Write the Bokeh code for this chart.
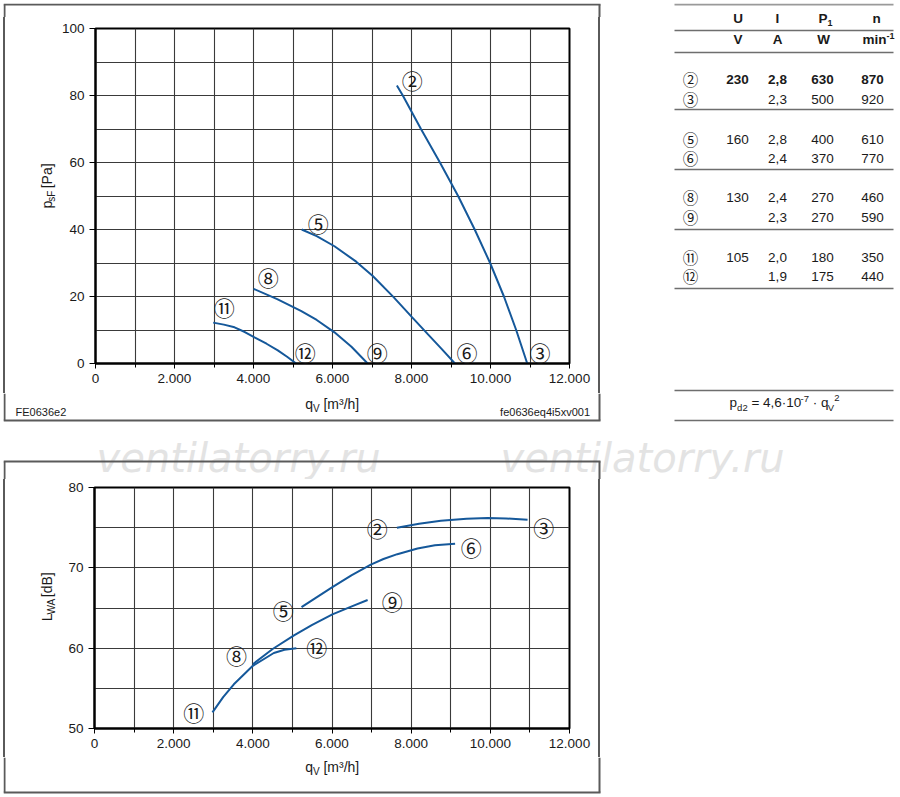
import math
from bokeh.plotting import figure
from bokeh.models import FixedTicker, Label, Range1d, Spacer
from bokeh.layouts import row, column
from bokeh.embed import file_html
from bokeh.resources import INLINE

# ---------------- data ----------------
X_TICKS = [0, 2000, 4000, 6000, 8000, 10000, 12000]
X_TICK_LABELS = ["0", "2.000", "4.000", "6.000", "8.000", "10.000", "12.000"]
X_MINOR = [1000, 3000, 5000, 7000, 9000, 11000]
P_TICKS = [0, 20, 40, 60, 80, 100]
P_TICK_LABELS = ["0", "20", "40", "60", "80", "100"]
L_TICKS = [50, 60, 70, 80]
L_TICK_LABELS = ["50", "60", "70", "80"]

# static pressure p_sF [Pa] over q_V [m3/h]
PS_23_Q = [7630, 7780, 8240, 8720, 9180, 9600, 9990, 10340, 10650, 10930]
PS_23 = [83.0, 80.0, 70.0, 60.0, 50.0, 40.0, 30.0, 20.0, 10.0, 0.0]
PS_56_Q = [5220, 5600, 6050, 6600, 7020, 7540, 8000, 8400, 8750, 9100]
PS_56 = [40.0, 38.0, 35.0, 30.4, 26.1, 19.9, 14.0, 8.9, 4.5, 0.0]
PS_89_Q = [4000, 4600, 5200, 5600, 6050, 6480, 6890]
PS_89 = [22.3, 19.2, 15.7, 13.0, 9.3, 5.0, 0.0]
PS_1112_Q = [2980, 3250, 3520, 3780, 4025, 4330, 4615, 4850, 5080]
PS_1112 = [12.2, 11.6, 10.8, 9.4, 7.8, 5.9, 3.9, 2.0, 0.0]

# sound power L_WA [dB] over q_V [m3/h]
LW_23_Q = [7640, 8200, 8750, 9400, 9930, 10400, 10940]
LW_23 = [75.0, 75.5, 75.85, 76.1, 76.2, 76.15, 76.0]
LW_56_Q = [5230, 5600, 6010, 6500, 6980, 7300, 7650, 8160, 8600, 9110]
LW_56 = [65.1, 66.3, 67.6, 69.1, 70.4, 71.1, 71.7, 72.4, 72.8, 73.0]
LW_89_Q = [4000, 4500, 5040, 5500, 6010, 6500, 6900]
LW_89 = [58.0, 59.9, 61.6, 62.9, 64.2, 65.2, 66.0]
LW_1112_Q = [2980, 3250, 3520, 4000, 4530, 4800, 5100]
LW_1112 = [52.0, 53.9, 55.5, 57.8, 59.4, 59.8, 60.0]

# operating points table
PT_NAMES = ["②", "③", "⑤", "⑥", "⑧", "⑨", "⑪", "⑫"]
PT_U = ["230", "", "160", "", "130", "", "105", ""]
PT_I = ["2,8", "2,3", "2,8", "2,4", "2,4", "2,3", "2,0", "1,9"]
PT_P1 = ["630", "500", "400", "370", "270", "270", "180", "175"]
PT_N = ["870", "920", "610", "770", "460", "590", "350", "440"]

# curve markers (anchor in data coordinates)
PS_MARKS = [("②", 8017, 84.7), ("③", 11254, 3.4), ("⑤", 5640, 41.8), ("⑥", 9408, 3.4),
            ("⑧", 4375, 25.7), ("⑨", 7132, 3.4), ("⑪", 3262, 16.8), ("⑫", 5311, 3.4)]
LW_MARKS = [("②", 7145, 74.9), ("③", 11352, 75.1), ("⑤", 4767, 64.7), ("⑥", 9517, 72.65),
            ("⑧", 3585, 59.1), ("⑨", 7521, 65.85), ("⑪", 2509, 52.0), ("⑫", 5612, 60.1)]

BLUE = "#15589a"
TXT = "#1a1a1a"
BOX = "#5a5a5a"
FONT = "Liberation Sans"
CJK = "Noto Sans CJK JP"
FIX = 0.3  # baseline correction (em)

W_REG = {' ': 278, '[': 278, ']': 278, '/': 278, '=': 584, ',': 278, '.': 278, '-': 333,
         '·': 278, '³': 333, 'm': 833, 'i': 222, 'l': 222, 's': 500, 'F': 611, 'P': 667,
         'L': 556, 'W': 944, 'A': 667, 'V': 667, 'B': 667, 'D': 722, 'U': 722, 'I': 278}
W_BOLD = {'m': 889, 'i': 278, 'n': 611, 'P': 667, '-': 333, 'U': 722, 'I': 278,
          'V': 667, 'A': 722, 'W': 944, ',': 278}


def tw(s, size, bold=False):
    tab = W_BOLD if bold else W_REG
    return sum(tab.get(c, 556) for c in s) * size / 1000.0


def rich(p, pieces, x, y, align="center", angle=0.0, color=TXT):
    """Text pieces (text, size, baseline shift px (+down), bold) in a pixel panel."""
    total = sum(tw(t, s, b) for t, s, sh, b in pieces)
    cur = {"center": -total / 2.0, "left": 0.0, "right": -total}[align]
    for t, s, sh, b in pieces:
        lead = len(t) - len(t.lstrip(' '))
        cur += tw(' ' * lead, s, b)
        body = t.strip(' ')
        if angle == 0:
            lx, ly = x + cur, y + sh - FIX * s
        else:
            lx, ly = x + sh - FIX * s, y - cur
        p.add_layout(Label(x=lx, y=ly, text=body, angle=angle, text_font=FONT,
                           text_font_size=f"{s}px",
                           text_font_style="bold" if b else "normal",
                           text_color=color, text_align="left",
                           text_baseline="alphabetic"))
        cur += tw(t.lstrip(' '), s, b)


def plain(p, text, x, base, size, align="left", bold=False, font=FONT, color=TXT,
          style=None, **kw):
    p.add_layout(Label(x=x, y=base - FIX * size, text=text, text_font=font,
                       text_font_size=f"{size}px", text_color=color, text_align=align,
                       text_font_style=style or ("bold" if bold else "normal"),
                       text_baseline="alphabetic", **kw))


def strip(x0, x1, y0, y1, box=None):
    """Plain panel whose data coordinates are page pixels."""
    f = figure(width=x1 - x0, height=y1 - y0, x_range=Range1d(x0, x1),
               y_range=Range1d(y1, y0), x_axis_location=None, y_axis_location=None,
               toolbar_location=None, output_backend="svg", min_border=0)
    f.min_border_left = f.min_border_right = f.min_border_top = f.min_border_bottom = 0
    f.grid.visible = False
    f.outline_line_color = None
    f.background_fill_color = "white"
    f.border_fill_color = "white"
    if box is not None:
        bx0, by0, bx1, by1 = box
        segs = []
        for yy in (by0, by1):
            if y0 <= yy <= y1:
                segs.append((bx0 - 1, yy, bx1 + 1, yy))
        for xx in (bx0, bx1):
            a, b = max(by0, y0), min(by1, y1)
            if a < b:
                segs.append((xx, a, xx, b))
        f.segment(x0=[s[0] for s in segs], y0=[s[1] for s in segs],
                  x1=[s[2] for s in segs], y1=[s[3] for s in segs],
                  line_color=BOX, line_width=2)
    return f


def vline(h):
    return Spacer(width=2, height=h, styles={"background-color": BOX})


def gap(w, h):
    return Spacer(width=w, height=h)


def chart(height, top, frame_h, y0, y1, yticks, ylabels, ystep):
    p = figure(width=534, height=height, x_range=Range1d(0, 12000),
               y_range=Range1d(y0, y1), min_border_left=36, min_border_right=23,
               min_border_top=top, min_border_bottom=height - top - frame_h,
               toolbar_location=None, output_backend="svg")
    p.background_fill_color = "white"
    p.border_fill_color = "white"
    p.xaxis.ticker = FixedTicker(ticks=X_TICKS, minor_ticks=X_MINOR)
    p.xaxis.major_label_overrides = {k: v for k, v in zip(X_TICKS, X_TICK_LABELS)}
    p.yaxis.ticker = FixedTicker(ticks=yticks, minor_ticks=[])
    p.yaxis.major_label_overrides = {k: v for k, v in zip(yticks, ylabels)}
    p.xgrid.ticker = FixedTicker(ticks=list(range(1000, 12000, 1000)))
    gy = []
    v = y0 + ystep
    while v < y1:
        gy.append(v)
        v += ystep
    p.ygrid.ticker = FixedTicker(ticks=gy)
    p.grid.grid_line_color = "#3a3a3a"
    p.grid.grid_line_width = 1.1
    p.outline_line_color = "black"
    p.outline_line_width = 2
    p.axis.axis_line_color = "black"
    p.axis.axis_line_width = 2
    p.axis.major_tick_line_color = "black"
    p.axis.major_tick_in = 0
    p.axis.minor_tick_in = 0
    p.xaxis.major_tick_out = 5
    p.xaxis.minor_tick_out = 4
    p.xaxis.minor_tick_line_color = "black"
    p.yaxis.major_tick_out = 6
    p.yaxis.minor_tick_line_color = None
    p.axis.major_label_text_font = FONT
    p.axis.major_label_text_font_size = "13.5px"
    p.axis.major_label_text_color = TXT
    p.axis.major_label_standoff = 5
    return p


def marks(p, items):
    for name, mx, my in items:
        p.add_layout(Label(x=mx, y=my, text=name, text_font=CJK, text_font_size="21px",
                           text_color=TXT, text_align="center", text_baseline="middle"))


# ---------------- top chart: pressure ----------------
BOX1 = (4, 4, 599, 420)
t1 = strip(3, 608, 3, 17, BOX1)
l1 = strip(5, 58, 17, 393)
b1 = strip(3, 608, 393, 425, BOX1)
c1 = chart(376, 11, 335, 0, 100, P_TICKS, P_TICK_LABELS, 10)
for q, ps in [(PS_23_Q, PS_23), (PS_56_Q, PS_56), (PS_89_Q, PS_89), (PS_1112_Q, PS_1112)]:
    c1.line(q, ps, line_color=BLUE, line_width=2)
marks(c1, PS_MARKS)

rich(l1, [("p", 14, 0, False), ("sF", 10, 3, False), (" [Pa]", 14, 0, False)],
     50.5, 195.3, angle=math.pi / 2)
rich(b1, [("q", 14, 0, False), ("V", 10, 3, False), (" [m³/h]", 14, 0, False)],
     331.7, 408)
plain(b1, "FE0636e2", 15, 414.5, 11)
plain(b1, "fe0636eq4i5xv001", 589.5, 414.5, 11, align="right")

# ---------------- right panel: table + formula ----------------
side = strip(608, 897, 3, 425)
side.segment(x0=[674], y0=[4], x1=[893], y1=[4], line_color="#9a9a9a", line_width=2.2)
rule_y = [30, 52, 109, 169, 229, 288, 390, 420]
side.segment(x0=[674] * len(rule_y), y0=rule_y, x1=[893] * len(rule_y), y1=rule_y,
             line_color="#6e6e6e", line_width=1.3)

COLS = [737, 777, 822, 872]
HEAD1 = [[("U", 13.5, 0, True)], [("I", 13.5, 0, True)],
         [("P", 13.5, 0, True), ("1", 9, 3, True)], [("n", 13.5, 0, True)]]
HEAD2 = [[("V", 13.5, 0, True)], [("A", 13.5, 0, True)], [("W", 13.5, 0, True)],
         [("min", 13.5, 0, True), ("-1", 9, -5, True)]]
for cx, pcs in zip([737.5, 777, 825, 876], HEAD1):
    rich(side, pcs, cx, 21.7)
for cx, pcs in zip([737.5, 777, 823, 878], HEAD2):
    rich(side, pcs, cx, 43.3)

ROW_BASE = [83.5, 103, 143, 162, 201.5, 221.5, 261, 280]
for i, base in enumerate(ROW_BASE):
    side.add_layout(Label(x=690, y=base - 5, text=PT_NAMES[i], text_font=CJK,
                          text_font_size="15.5px", text_color=TXT, text_align="center",
                          text_baseline="middle"))
    for cx, val in zip(COLS, [PT_U[i], PT_I[i], PT_P1[i], PT_N[i]]):
        if val:
            plain(side, val, cx, base, 13.5, align="center", bold=(i == 0))

rich(side, [("p", 13.5, 0, False), ("d2", 9.5, 3, False), (" = 4,6·10", 13.5, 0, False),
            ("-7", 9.5, -5, False), (" · q", 13.5, 0, False), ("V", 9.5, 3, False),
            ("2", 9.5, -6, False)],
     784, 406.5)

# ---------------- bottom chart: sound power ----------------
BOX2 = (4, 461, 599, 792)
t2 = strip(3, 897, 425, 479, BOX2)
l2 = strip(5, 58, 479, 757)
b2 = strip(3, 897, 757, 797, BOX2)
c2 = chart(278, 8, 241, 50, 80, L_TICKS, L_TICK_LABELS, 5)
for q, lw in [(LW_23_Q, LW_23), (LW_56_Q, LW_56), (LW_89_Q, LW_89), (LW_1112_Q, LW_1112)]:
    c2.line(q, lw, line_color=BLUE, line_width=2)
marks(c2, LW_MARKS)

for wx in (96, 500):
    plain(t2, "ventilatorry.ru", wx, 469, 40, font="DejaVu Sans", color="#e3e3e3",
          style="italic", level="image")

rich(l2, [("L", 14, 0, False), ("WA", 10, 3, False), (" [dB]", 14, 0, False)],
     50.5, 607, angle=math.pi / 2)
rich(b2, [("q", 14, 0, False), ("V", 10, 3, False), (" [m³/h]", 14, 0, False)],
     331.7, 771)

top_block = column(t1, row(vline(376), l1, c1, gap(6, 376), vline(376), gap(8, 376)), b1)
row_a = row(top_block, side)
row_b = row(vline(278), l2, c2, gap(6, 278), vline(278), gap(297, 278))
root = column(row_a, t2, row_b, b2)
root.styles = {"margin": "3px 0px 0px 3px"}

open("out.html", "w").write(file_html(root, INLINE))
